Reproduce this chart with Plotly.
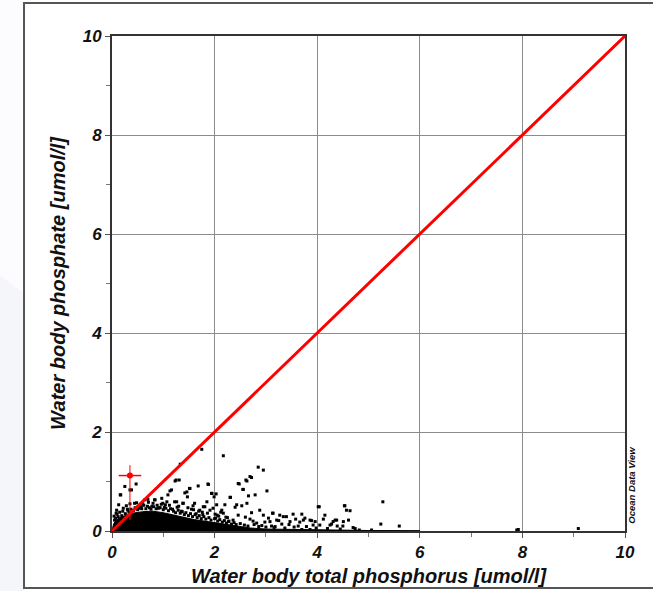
import plotly.graph_objects as go

# ---- data ----
# scattered samples (total phosphorus, phosphate) [umol/l]
pts_x = [1.75, 2.17, 2.85, 2.95, 1.33, 0.25, 0.35, 0.16, 1.23, 1.31, 1.88, 1.68, 1.52, 1.13, 1.46,
         1.94, 2.03, 2.46, 2.63, 2.72, 2.55, 3.02, 2.79, 2.30, 2.20, 2.43, 2.63, 2.88, 3.14, 3.34,
         3.53, 3.70, 3.21, 3.47, 3.63, 3.73, 3.11, 3.31, 0.64, 0.97, 0.84, 1.07, 1.26, 1.39, 1.58,
         1.78, 1.97, 2.14, 0.09, 0.22, 2.69, 2.61, 2.48, 2.56, 2.66, 2.31, 2.04, 2.40, 2.53, 2.72,
         2.95, 3.13, 3.40, 3.76, 3.86, 3.96, 4.02, 3.08, 3.18, 3.79, 3.92, 1.91, 2.17, 2.46, 2.69,
         2.82, 1.85, 4.04, 4.54, 4.57, 4.15, 4.38, 4.31, 4.51, 4.61, 4.05, 4.25, 3.89, 3.27, 5.28,
         4.53, 4.64, 4.12, 4.28, 4.35, 4.39, 4.50, 4.74, 3.86, 4.82, 5.06, 5.24, 5.60, 7.89, 7.92,
         9.09, 3.70, 0.47, 0.17, 0.38, 0.13, 0.05, 0.08, 0.28, 0.44, 1.25, 1.16, 1.51, 1.87, 1.42,
         1.47, 1.09, 1.99, 0.83, 0.70, 0.99, 1.22, 1.38, 1.61, 1.81, 1.71, 1.55, 0.90, 1.95, 2.08,
         2.25, 2.36, 2.12, 2.60, 2.75, 2.98, 3.05, 3.25, 3.45, 3.58, 3.66, 3.98, 4.20, 4.45, 4.70,
         1.02, 1.18, 1.35, 1.64, 1.77, 2.02, 2.28, 0.55, 0.62, 0.78, 0.30, 0.58, 0.92,
         # points fringing the dense cloud
         0.04, 0.07, 0.10, 0.12, 0.15, 0.19, 0.21, 0.26, 0.31, 0.33, 0.37, 0.42, 0.45, 0.50,
         0.53, 0.57, 0.66, 0.69, 0.73, 0.76, 0.81, 0.86, 0.88, 0.94, 1.00, 1.05, 1.10, 1.14,
         1.20, 1.24, 1.29, 1.33, 1.37, 1.41, 1.44, 1.49, 1.53, 1.57, 1.62, 1.66, 1.70, 1.74,
         1.79, 1.83, 1.89, 1.93, 2.00, 2.06, 2.10, 2.15, 2.19, 2.23, 2.27, 2.33, 2.38, 2.42,
         2.50, 2.58, 2.65, 2.77, 2.86, 2.92, 3.00, 3.16, 3.37, 3.55, 0.60, 0.71, 0.96, 1.12,
         1.30, 1.48, 1.69, 1.86, 2.05, 2.22, 0.35, 0.48, 0.80, 1.04, 1.27, 1.59, 1.76, 2.01]
pts_y = [1.65, 1.52, 1.29, 1.23, 1.35, 0.90, 0.83, 0.73, 1.01, 1.03, 0.94, 0.91, 0.86, 0.81, 0.79,
         0.76, 0.75, 0.96, 1.01, 1.08, 0.84, 0.81, 0.73, 0.68, 0.53, 0.53, 0.56, 0.42, 0.36, 0.29,
         0.34, 0.34, 0.22, 0.19, 0.10, 0.22, 0.10, 0.14, 0.63, 0.66, 0.63, 0.59, 0.59, 0.56, 0.51,
         0.49, 0.46, 0.42, 0.42, 0.46, 1.10, 1.03, 0.95, 0.84, 0.71, 0.68, 0.53, 0.48, 0.51, 0.37,
         0.32, 0.36, 0.29, 0.26, 0.22, 0.19, 0.49, 0.19, 0.09, 0.09, 0.12, 0.42, 0.36, 0.32, 0.24,
         0.16, 0.59, 0.49, 0.51, 0.42, 0.32, 0.22, 0.19, 0.19, 0.22, 0.12, 0.12, 0.21, 0.32, 0.59,
         0.51, 0.41, 0.24, 0.14, 0.22, 0.10, 0.10, 0.05, 0.03, 0.02, 0.02, 0.14, 0.10, 0.02, 0.03,
         0.05, 0.03, 0.95, 0.73, 0.83, 0.53, 0.22, 0.36, 0.51, 0.56, 1.03, 0.83, 0.86, 0.95, 0.77,
         0.69, 0.73, 0.69, 0.63, 0.64, 0.56, 0.59, 0.56, 0.56, 0.49, 0.42, 0.44, 0.46, 0.76, 0.30,
         0.27, 0.22, 0.38, 0.28, 0.20, 0.18, 0.26, 0.21, 0.13, 0.24, 0.18, 0.06, 0.05, 0.04, 0.07,
         0.48, 0.44, 0.40, 0.35, 0.33, 0.26, 0.20, 0.48, 0.52, 0.50, 0.44, 0.45, 0.47,
         0.30, 0.26, 0.34, 0.29, 0.38, 0.31, 0.40, 0.35, 0.42, 0.38, 0.44, 0.41, 0.47, 0.43,
         0.46, 0.49, 0.45, 0.50, 0.47, 0.44, 0.49, 0.45, 0.52, 0.47, 0.43, 0.46, 0.41, 0.45,
         0.40, 0.37, 0.42, 0.36, 0.39, 0.33, 0.37, 0.31, 0.35, 0.29, 0.33, 0.27, 0.31, 0.25,
         0.29, 0.24, 0.27, 0.22, 0.25, 0.20, 0.23, 0.18, 0.21, 0.16, 0.19, 0.14, 0.17, 0.13,
         0.15, 0.12, 0.10, 0.13, 0.09, 0.11, 0.08, 0.07, 0.06, 0.08, 0.55, 0.58, 0.54, 0.52,
         0.50, 0.47, 0.40, 0.36, 0.32, 0.28, 0.55, 0.57, 0.56, 0.53, 0.48, 0.43, 0.38, 0.34]

# envelope of the densely packed samples near the origin
cloud_x = [0.0, 0.03, 0.08, 0.15, 0.25, 0.40, 0.60, 0.80, 1.00, 1.20, 1.40, 1.60, 1.80, 2.00,
           2.20, 2.40, 2.70, 3.00, 3.50, 4.00, 5.00, 6.00, 6.00, 0.0]
cloud_y = [0.0, 0.14, 0.22, 0.27, 0.31, 0.36, 0.39, 0.40, 0.37, 0.32, 0.28, 0.23, 0.20, 0.17,
           0.13, 0.10, 0.06, 0.04, 0.03, 0.02, 0.01, 0.005, 0.0, 0.0]

# mean with spread
mean_x = [0.35]
mean_y = [1.12]
err_x = [0.22]
err_y_plus = [0.21]
err_y_minus = [0.90]

# 1:1 reference line
ref_x = [0, 10]
ref_y = [0, 10]

tick_vals = [0, 2, 4, 6, 8, 10]
tick_text = ["0", "2", "4", "6", "8", "10"]

FONT = "Liberation Sans, Arial, sans-serif"

fig = go.Figure()
fig.add_trace(go.Scatter(x=cloud_x, y=cloud_y, mode="lines", fill="toself",
                         fillcolor="black", line=dict(color="black", width=1),
                         hoverinfo="skip", showlegend=False))
fig.add_trace(go.Scatter(x=pts_x, y=pts_y, mode="markers",
                         marker=dict(symbol="square", size=3, color="black"),
                         showlegend=False))
fig.add_trace(go.Scatter(x=ref_x, y=ref_y, mode="lines",
                         line=dict(color="#ff0000", width=3), showlegend=False))
fig.add_trace(go.Scatter(x=mean_x, y=mean_y, mode="markers",
                         marker=dict(symbol="circle", size=6, color="#ff0000"),
                         error_x=dict(type="data", array=err_x, color="#ff0000",
                                      thickness=1.5, width=0),
                         error_y=dict(type="data", array=err_y_plus, arrayminus=err_y_minus,
                                      color="#ff0000", thickness=1, width=0),
                         showlegend=False))

axis_common = dict(
    range=[0, 10], tickvals=tick_vals, ticktext=tick_text,
    showgrid=True, gridcolor="#8c8c8c", gridwidth=1, zeroline=False,
    showline=True, linecolor="#333333", linewidth=2, mirror=True,
    ticks="outside", ticklen=5, tickcolor="#555555",
    minor=dict(ticks="outside", ticklen=4, tickcolor="#777777", dtick=1, tick0=0, showgrid=False),
    tickfont=dict(family=FONT, size=17, color="#111111", weight="bold", style="italic"),
    fixedrange=True, automargin=False,
)

fig.update_layout(
    width=653, height=591,
    margin=dict(l=112, r=28, t=36, b=60),
    paper_bgcolor="white", plot_bgcolor="white",
    xaxis=dict(axis_common,
               title=dict(text="Water body total phosphorus [umol/l]", standoff=8,
                          font=dict(family=FONT, size=20, color="#111111", weight="bold", style="italic"))),
    yaxis=dict(axis_common,
               title=dict(text="Water body phosphate [umol/l]", standoff=12,
                          font=dict(family=FONT, size=20, color="#111111", weight="bold", style="italic"))),
    shapes=[
        # light background left of outer frame
        dict(type="rect", xref="paper", yref="paper", x0=-0.25, x1=-0.1715, y0=-0.2, y1=1.1,
             fillcolor="#f5f6fa", line=dict(width=0), layer="below"),
        dict(type="path", xref="paper", yref="paper",
             path="M -0.25 1.1 L -0.1715 1.1 L -0.1715 0.48 L -0.25 0.54 Z",
             fillcolor="#fcfcfe", line=dict(width=0), layer="below"),
        # outer frame
        dict(type="rect", xref="paper", yref="paper", x0=-0.1715, x1=1.12, y0=-0.1152, y1=1.0667,
             fillcolor="rgba(0,0,0,0)", line=dict(color="#555555", width=2)),
    ],
    annotations=[
        dict(text="<b><i>Ocean Data View</i></b>", x=1.013, y=0.093, xref="paper", yref="paper",
             textangle=-90, showarrow=False, xanchor="center", yanchor="middle",
             font=dict(family=FONT, size=9.5, color="#111111")),
    ],
)

fig.write_html("out.html")
